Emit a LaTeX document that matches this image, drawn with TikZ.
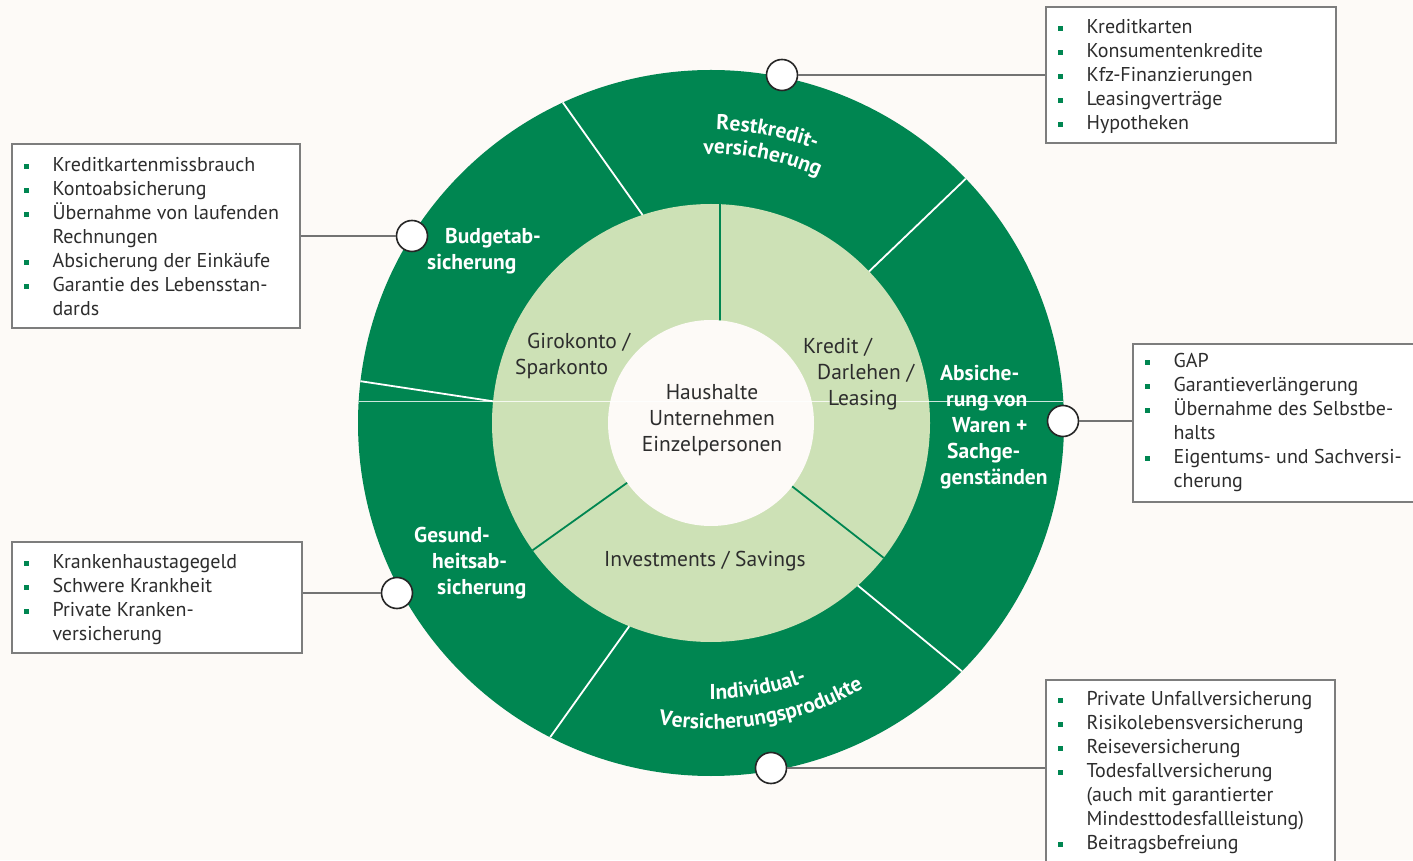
\documentclass[tikz,border=0pt]{standalone}
\usepackage{fontspec}
\setmainfont{PT Sans}
\newfontfamily\spacedfont[LetterSpace=3]{PT Sans}
\usepackage{tikz}
\usetikzlibrary{decorations.text}

\definecolor{ringdark}{RGB}{0,134,81}
\definecolor{ringlight}{RGB}{205,225,182}
\definecolor{paper}{RGB}{253,250,247}
\definecolor{framegray}{RGB}{125,125,125}
\definecolor{inkgray}{RGB}{45,45,45}

\newcommand{\listfont}{\fontsize{20}{24}\selectfont}
\newcommand{\ringfont}{\fontsize{21.5}{26}\selectfont}
\newcommand{\segfont}{\fontsize{21.5}{26}\selectfont\bfseries}
\newcommand{\lowsegfont}{\spacedfont\fontsize{21.5}{26}\selectfont\bfseries}
\newcommand{\bul}{\makebox[28.5pt][l]{\textcolor{ringdark}{\rule[3pt]{5pt}{5pt}}}}
\newcommand{\ind}{\hspace*{28.5pt}}

\tikzset{
  infobox/.style={draw=framegray, line width=1.3pt, fill=white, inner sep=0pt},
  listtext/.style={anchor=north west, inner sep=0pt, align=left, text=inkgray, font=\listfont},
  ringtext/.style={anchor=north west, inner sep=0pt, align=left, text=inkgray, font=\ringfont},
  segtext/.style={anchor=north west, inner sep=0pt, align=left, text=white, font=\segfont},
  marker/.style={circle, draw=black!85, line width=1.6pt, fill=white, minimum size=31pt, inner sep=0pt},
  leader/.style={draw=black!55, line width=1.3pt},
  arctext/.style={decorate, decoration={text along path, text align=center, text color=white, text={|\segfont|#1}}},
  lowarctext/.style={decorate, decoration={text along path, text align=center, text color=white, text={|\lowsegfont|#1}}}
}

\begin{document}
\begin{tikzpicture}[x=1pt, y=1pt]

\useasboundingbox (0,0) rectangle (1413,860);
\clip (0,0) rectangle (1413,860);
\fill [paper] (0,0) rectangle (1413,860);

\coordinate (O) at (711,437);

\coordinate (cutA1) at (642.6,645.0);
\coordinate (cutA2) at (562.9,757.4);
\coordinate (cutB1) at (869.1,588.6);
\coordinate (cutB2) at (965.8,681.3);
\coordinate (cutC1) at (857.8,274.5);
\coordinate (cutC2) at (961.9,188.7);
\coordinate (cutD1) at (629.3,233.8);
\coordinate (cutD2) at (550.2,122.8);
\coordinate (cutE1) at (493.1,458.7);
\coordinate (cutE2) at (360.5,478.8);

\coordinate (cutF1) at (720,539.6);
\coordinate (cutF2) at (720,655.8);
\coordinate (cutG1) at (627.1,377.2);
\coordinate (cutG2) at (532.7,309.8);
\coordinate (cutH1) at (792.2,373.6);
\coordinate (cutH2) at (883.6,302.2);

\coordinate (seamL) at (358.7,459);
\coordinate (seamR) at (1063.3,459);

\fill [ringdark] (O) circle (353);
\fill [ringlight] (O) circle (219);
\fill [paper] (O) circle (103);

\draw [white, line width=0.6pt, opacity=0.8] (seamL) -- (seamR);

\draw [white, line width=1.8pt] (cutA1)--(cutA2) (cutB1)--(cutB2) (cutC1)--(cutC2) (cutD1)--(cutD2) (cutE1)--(cutE2);
\draw [ringdark, line width=1.8pt] (cutF1)--(cutF2) (cutG1)--(cutG2) (cutH1)--(cutH2);

\path [arctext=Restkredit-] ([shift={(114:293)}]O) arc [start angle=114, end angle=44, radius=293pt];
\path [arctext=versicherung] ([shift={(114:269)}]O) arc [start angle=114, end angle=44, radius=269pt];
\path [lowarctext=Individual-] ([shift={(-120:276)}]O) arc [start angle=-120, end angle=-40, radius=276pt];
\path [lowarctext=Versicherungsprodukte] ([shift={(-120:306)}]O) arc [start angle=-120, end angle=-40, radius=306pt];

\node [segtext] (budgetlabel) at (427,635.2) {\strut\hspace*{18pt}Budgetab-\\sicherung};
\node [segtext] (gesundlabel) at (414,336.2) {\strut Gesund-\\\hspace*{18pt}heitsab-\\\hspace*{23pt}sicherung};
\node [segtext] (warenlabel) at (940,498.2) {\strut Absiche-\\\hspace*{6pt}rung von\\\hspace*{12pt}Waren +\\\hspace*{7pt}Sachge-\\genständen};

\node [ringtext] (girolabel) at (515,530.2) {\strut\hspace*{12pt}Girokonto /\\Sparkonto};
\node [ringtext] (kreditlabel) at (803,525.2) {\strut Kredit /\\\hspace*{14pt}Darlehen /\\\hspace*{25pt}Leasing};
\node [ringtext, anchor=north, align=center] (hublabel) at (712,479.2) {\strut Haushalte\\Unternehmen\\Einzelpersonen};
\node [ringtext, anchor=base] (investlabel) at (705,293) {Investments / Savings};

\node [marker] (restdot) at (782,785) {};
\node [marker] (budgetdot) at (412,624) {};
\node [marker] (warendot) at (1063,439) {};
\node [marker] (gesunddot) at (397,267) {};
\node [marker] (indivdot) at (771,92) {};

\node [infobox, minimum width=290pt, minimum height=136pt] (kreditbox) at (1191,785) {};
\node [infobox, minimum width=288pt, minimum height=184pt] (budgetbox) at (156,624) {};
\node [infobox, minimum width=300pt, minimum height=158pt] (gapbox) at (1283,437) {};
\node [infobox, minimum width=290pt, minimum height=111pt] (krankbox) at (157,262.5) {};
\node [infobox, minimum width=289pt, minimum height=182pt] (unfallbox) at (1190.5,89) {};

\draw [leader] (restdot.east) -- (kreditbox.west);
\draw [leader] (budgetdot.west) -- (budgetbox.east);
\draw [leader] (warendot.east) -- (warendot -| gapbox.west);
\draw [leader] (gesunddot.west) -- (gesunddot -| krankbox.east);
\draw [leader] (indivdot.east) -- (indivdot -| unfallbox.west);

\node [listtext] (kredittext) at ([shift={(12.5,-10.2)}]kreditbox.north west)
  {\strut\bul Kreditkarten\\\bul Konsumentenkredite\\\bul Kfz-Finanzierungen\\\bul Leasingverträge\\\bul Hypotheken};
\node [listtext] (budgettext) at ([shift={(12.5,-11.5)}]budgetbox.north west)
  {\strut\bul Kreditkartenmissbrauch\\\bul Kontoabsicherung\\\bul Übernahme von laufenden\\\ind Rechnungen\\\bul Absicherung der Einkäufe\\\bul Garantie des Lebensstan-\\\ind dards};
\node [listtext] (gaptext) at ([shift={(12.5,-7.5)}]gapbox.north west)
  {\strut\bul GAP\\\bul Garantieverlängerung\\\bul Übernahme des Selbstbe-\\\ind halts\\\bul Eigentums- und Sachversi-\\\ind cherung};
\node [listtext] (kranktext) at ([shift={(12.5,-10.5)}]krankbox.north west)
  {\strut\bul Krankenhaustagegeld\\\bul Schwere Krankheit\\\bul Private Kranken-\\\ind versicherung};
\node [listtext] (unfalltext) at ([shift={(12.5,-9.2)}]unfallbox.north west)
  {\strut\bul Private Unfallversicherung\\\bul Risikolebensversicherung\\\bul Reiseversicherung\\\bul Todesfallversicherung\\\ind (auch mit garantierter\\\ind Mindesttodesfallleistung)\\\bul Beitragsbefreiung};

\end{tikzpicture}
\end{document}
